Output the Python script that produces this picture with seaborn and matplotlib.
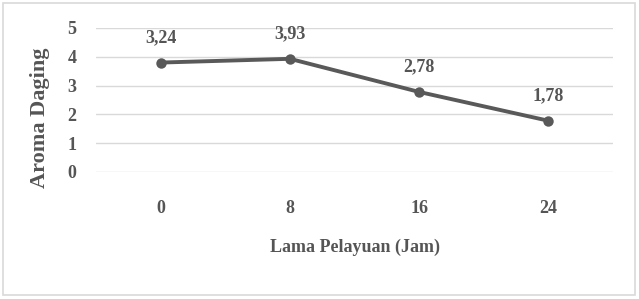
import matplotlib
matplotlib.use("Agg")
import matplotlib.pyplot as plt
import seaborn as sns
import pandas as pd
from matplotlib.patches import Rectangle

# Data
categories = ["0", "8", "16", "24"]
values = [3.80, 3.93, 2.78, 1.78]
point_labels = ["3,24", "3,93", "2,78", "1,78"]
y_ticks = [0, 1, 2, 3, 4, 5]
x_title = "Lama Pelayuan (Jam)"
y_title = "Aroma Daging"

sns.set_theme(style="white")
plt.rcParams["font.family"] = ["Liberation Serif", "DejaVu Serif"]
plt.rcParams["font.weight"] = "bold"

df = pd.DataFrame({"jam": categories, "aroma": values})

fig = plt.figure(figsize=(6.39, 2.99), dpi=100)
ax = fig.add_axes([96 / 639, 1 - 172 / 299, (613 - 96) / 639, (172 - 28) / 299])

txt_color = "#555555"
line_color = "#595959"

ax.set_ylim(0, 5)
ax.set_yticks(y_ticks)
for yv in y_ticks:
    ax.axhline(yv, color="#d9d9d9", lw=1.0, zorder=0)

sns.lineplot(data=df, x="jam", y="aroma", ax=ax, sort=False, color=line_color,
             lw=2.8, marker="o", markersize=7.5, markeredgewidth=0, zorder=3)
ax.set_xlim(-0.5, 3.5)

for i, (v, lab) in enumerate(zip(values, point_labels)):
    ax.annotate(lab, (i, v), xytext=(0, 18), textcoords="offset points",
                ha="center", va="center", fontsize=13, fontweight="bold",
                color=txt_color)

for s in ax.spines.values():
    s.set_visible(False)
ax.tick_params(axis="both", length=0, labelsize=13, colors=txt_color)
ax.tick_params(axis="x", pad=20)
ax.tick_params(axis="y", pad=14)
for t in ax.get_xticklabels() + ax.get_yticklabels():
    t.set_fontweight("bold")

ax.set_xlabel(x_title, fontsize=13, fontweight="bold", color=txt_color, labelpad=16)
ax.set_ylabel(y_title, fontsize=16, fontweight="bold", color=txt_color,
              va="center", ha="center")
ax.yaxis.set_label_coords(-0.108, 0.375)

fig.patches.append(Rectangle((3 / 639, 4 / 299), 632 / 639, 292 / 299,
                             transform=fig.transFigure, fill=False,
                             edgecolor="#d9d9d9", lw=1.2))

fig.savefig("out.png", dpi=100)
